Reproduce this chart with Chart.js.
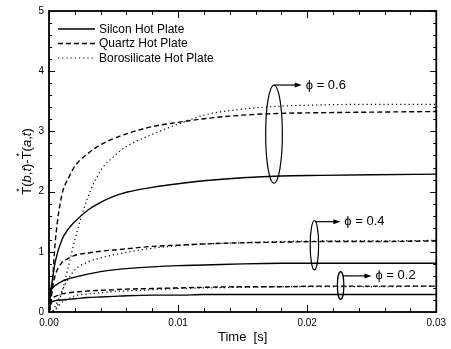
<!DOCTYPE html>
<html lang="en">
<head>
<meta charset="UTF-8">
<title>T*(b,t)-T*(a,t) vs time</title>
<script src="https://cdn.jsdelivr.net/npm/chart.js@4.4.0/dist/chart.umd.min.js"></script>
<style>
  * { margin: 0; padding: 0; }
  body { background: #fff; width: 451px; height: 349px; overflow: hidden; }
  #chart { display: block; }
</style>
</head>
<body>
<canvas id="chart" width="451" height="349"></canvas>
<script>
    // time axis [s]
    const timeS = [0, 0.0001, 0.0002, 0.0005, 0.001, 0.0015, 0.002, 0.003, 0.004, 0.005, 0.006, 0.008, 0.01, 0.012, 0.015, 0.018, 0.021, 0.025, 0.03]

    // phi = 0.6
    const silicon06 = [0, 0.3, 0.45, 0.85, 1.2, 1.38, 1.5, 1.69, 1.82, 1.92, 1.99, 2.07, 2.13, 2.18, 2.23, 2.26, 2.27, 2.28, 2.29]
    const quartz06 = [0, 0.1, 0.3, 1.2, 1.95, 2.22, 2.42, 2.63, 2.78, 2.88, 2.96, 3.08, 3.15, 3.21, 3.27, 3.30, 3.31, 3.32, 3.33]
    const boro06 = [0, 0, 0, 0.03, 0.33, 0.75, 1.2, 1.9, 2.35, 2.58, 2.75, 2.95, 3.12, 3.27, 3.37, 3.42, 3.44, 3.45, 3.45]
    // phi = 0.4
    const silicon04 = [0, 0.3, 0.37, 0.44, 0.51, 0.55, 0.58, 0.63, 0.67, 0.70, 0.72, 0.75, 0.77, 0.78, 0.80, 0.81, 0.81, 0.81, 0.81]
    const quartz04 = [0, 0.1, 0.3, 0.62, 0.82, 0.89, 0.94, 0.98, 1.01, 1.03, 1.05, 1.09, 1.11, 1.13, 1.15, 1.16, 1.17, 1.17, 1.18]
    const boro04 = [0, 0, 0, 0.1, 0.35, 0.55, 0.7, 0.83, 0.9, 0.95, 0.99, 1.06, 1.1, 1.13, 1.15, 1.17, 1.18, 1.18, 1.19]
    // phi = 0.2
    const silicon02 = [0, 0.12, 0.16, 0.19, 0.2, 0.21, 0.22, 0.24, 0.25, 0.26, 0.27, 0.28, 0.28, 0.29, 0.29, 0.29, 0.29, 0.29, 0.29]
    const quartz02 = [0, 0.08, 0.2, 0.26, 0.3, 0.32, 0.33, 0.35, 0.36, 0.37, 0.38, 0.39, 0.4, 0.41, 0.42, 0.42, 0.43, 0.43, 0.43]
    const boro02 = [0, 0, 0, 0.05, 0.16, 0.22, 0.27, 0.3, 0.32, 0.34, 0.35, 0.37, 0.39, 0.4, 0.41, 0.42, 0.42, 0.42, 0.43]

    const plateNames = ['Silcon Hot Plate', 'Quartz Hot Plate', 'Borosilicate Hot Plate']
    const xTicks = [0, 0.01, 0.02, 0.03]
    const yTicks = [0, 1, 2, 3, 4, 5]

    // ellipse groups: label, centre time, top value, bottom value, arrow value, arrow end time
    const phiLabels = ['0.6', '0.4', '0.2']
    const ringTime = [0.01743, 0.02056, 0.02259]
    const ringTop = [3.77, 1.52, 0.67]
    const ringBottom = [2.14, 0.70, 0.21]
    const arrowValue = [3.77, 1.50, 0.60]
    const arrowEnd = [0.01958, 0.02257, 0.02498]

    const FONT = "'Liberation Sans', Arial, Helvetica, sans-serif"
    const styles = [
        { borderDash: [], borderWidth: 1.4 },
        { borderDash: [5, 3], borderWidth: 1.4 },
        { borderDash: [1.2, 3], borderWidth: 1.2 }
    ]

    function pts(vals) {
        return vals.map((v, i) => ({ x: timeS[i], y: v }))
    }

    const series = [
        [silicon06, quartz06, boro06],
        [silicon04, quartz04, boro04],
        [silicon02, quartz02, boro02]
    ]
    const datasets = []
    series.forEach(group => {
        group.forEach((vals, k) => {
            datasets.push({
                label: plateNames[k],
                data: pts(vals),
                borderColor: '#000',
                borderWidth: styles[k].borderWidth,
                borderDash: styles[k].borderDash,
                pointRadius: 0,
                fill: false,
                cubicInterpolationMode: 'monotone'
            })
        })
    })

    const framePlugin = {
        id: 'frame',
        afterDatasetsDraw(chart) {
            const { ctx, chartArea: a, scales: { x, y } } = chart
            ctx.save()
            ctx.strokeStyle = '#000'
            ctx.lineWidth = 1
            ctx.beginPath()
            for (let i = 0; i <= 15; i++) {
                const px = Math.round(x.getPixelForValue(i * 0.002)) + 0.5
                const len = i % 5 === 0 ? 7 : 4
                ctx.moveTo(px, a.bottom); ctx.lineTo(px, a.bottom - len)
                ctx.moveTo(px, a.top); ctx.lineTo(px, a.top + len)
            }
            for (let i = 0; i <= 25; i++) {
                const py = Math.round(y.getPixelForValue(i * 0.2)) + 0.5
                const len = i % 5 === 0 ? 6 : 3
                ctx.moveTo(a.left, py); ctx.lineTo(a.left + len, py)
                ctx.moveTo(a.right, py); ctx.lineTo(a.right - len, py)
            }
            ctx.stroke()
            ctx.lineWidth = 1.8
            ctx.strokeRect(a.left, a.top, a.right - a.left, a.bottom - a.top)

            // phi rings and arrows
            ctx.lineWidth = 1.2
            ctx.fillStyle = '#000'
            phiLabels.forEach((lab, i) => {
                const cx = x.getPixelForValue(ringTime[i])
                const top = y.getPixelForValue(ringTop[i])
                const bot = y.getPixelForValue(ringBottom[i])
                const cy = (top + bot) / 2
                const ry = (bot - top) / 2
                const rx = Math.max(3.2, ry * 0.17)
                ctx.beginPath()
                ctx.ellipse(cx, cy, rx, ry, 0, 0, Math.PI * 2)
                ctx.stroke()
                const ay = y.getPixelForValue(arrowValue[i])
                const dy = Math.min(1, Math.abs(ay - cy) / ry)
                const sx = cx + rx * Math.sqrt(1 - dy * dy)
                const ex = x.getPixelForValue(arrowEnd[i])
                ctx.beginPath()
                ctx.moveTo(sx, ay); ctx.lineTo(ex - 5, ay)
                ctx.stroke()
                ctx.beginPath()
                ctx.moveTo(ex, ay); ctx.lineTo(ex - 7, ay - 2.5); ctx.lineTo(ex - 7, ay + 2.5)
                ctx.closePath(); ctx.fill()
                ctx.textBaseline = 'middle'
                ctx.textAlign = 'left'
                ctx.font = '13px ' + FONT
                ctx.fillText('\u03d5 = ' + lab, ex + 4, ay)
            })

            // legend
            ctx.font = '12px ' + FONT
            ctx.textBaseline = 'middle'
            for (let k = 0; k < 3; k++) {
                const ly = a.top + 18 + k * 14.5
                ctx.beginPath()
                ctx.setLineDash(styles[k].borderDash)
                ctx.lineWidth = styles[k].borderWidth
                ctx.moveTo(a.left + 9, ly); ctx.lineTo(a.left + 46, ly)
                ctx.stroke()
                ctx.setLineDash([])
                ctx.fillText(plateNames[k], a.left + 50, ly + 0.5)
            }

            // axis titles
            ctx.font = '13px ' + FONT
            ctx.textAlign = 'center'
            ctx.fillText('Time  [s]', (a.left + a.right) / 2, 337)

            const parts = [['T', 0, 0], ['*', 0, 1], ['(', 0, 0], ['b', 1, 0], [',', 0, 0], ['t', 1, 0], [')-', 0, 0],
                ['T', 0, 0], ['*', 0, 1], ['(', 0, 0], ['a', 1, 0], [',', 0, 0], ['t', 1, 0], [')', 0, 0]]
            ctx.translate(27, (a.top + a.bottom) / 2)
            ctx.rotate(-Math.PI / 2)
            ctx.textAlign = 'left'
            let total = 0
            const widths = parts.map(p => {
                ctx.font = (p[1] ? 'italic ' : '') + (p[2] ? '9px ' : '13px ') + FONT
                const w = p[2] ? 0 : ctx.measureText(p[0]).width
                total += w
                return w
            })
            let cx = -total / 2
            parts.forEach((p, i) => {
                ctx.font = (p[1] ? 'italic ' : '') + (p[2] ? '9px ' : '13px ') + FONT
                if (p[2]) {
                    ctx.fillText(p[0], cx - 5, -7)
                } else {
                    ctx.fillText(p[0], cx, 0)
                }
                cx += widths[i]
            })
            ctx.restore()
        }
    }

    new Chart(document.getElementById('chart'), {
        type: 'line',
        data: { datasets: datasets },
        options: {
            responsive: false,
            animation: false,
            devicePixelRatio: 1,
            layout: { padding: { left: 0, right: 13, top: 10, bottom: 0 } },
            plugins: { legend: { display: false }, tooltip: { enabled: false } },
            scales: {
                x: {
                    type: 'linear',
                    min: 0,
                    max: 0.03,
                    afterBuildTicks: s => { s.ticks = xTicks.map(v => ({ value: v })) },
                    afterFit: s => { s.height = 37 },
                    grid: { display: false, drawTicks: false },
                    border: { display: false },
                    ticks: {
                        color: '#000',
                        padding: 5,
                        maxRotation: 0,
                        font: { family: FONT, size: 10 },
                        callback: v => v.toFixed(2)
                    }
                },
                y: {
                    min: 0,
                    max: 5,
                    afterBuildTicks: s => { s.ticks = yTicks.map(v => ({ value: v })) },
                    afterFit: s => { s.width = 49 },
                    grid: { display: false, drawTicks: false },
                    border: { display: false },
                    ticks: {
                        color: '#000',
                        padding: 5,
                        font: { family: FONT, size: 10 },
                        callback: v => String(v)
                    }
                }
            }
        },
        plugins: [framePlugin]
    })
</script>
</body>
</html>
